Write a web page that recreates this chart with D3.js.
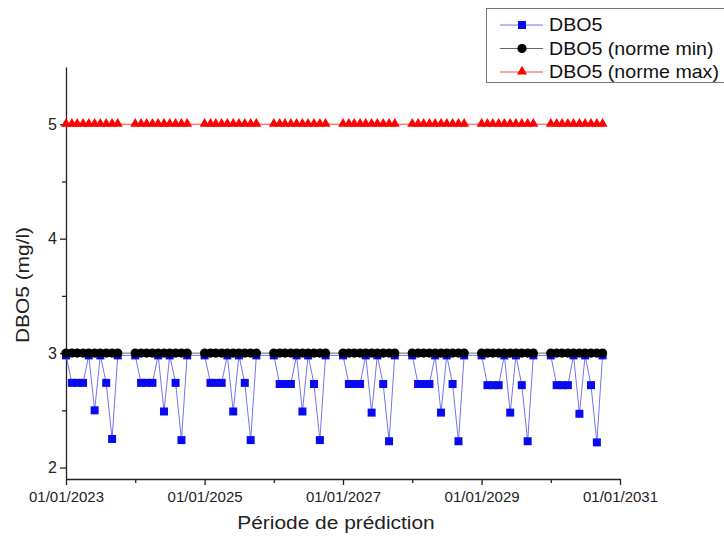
<!DOCTYPE html>
<html>
<head>
<meta charset="utf-8">
<script src="https://cdnjs.cloudflare.com/ajax/libs/d3/7.8.5/d3.min.js"></script>
<style>
  body { margin: 0; background: #fff; }
  text { font-family: "Liberation Sans", Arial, sans-serif; }
</style>
</head>
<body>
<script>
// data: one point per month, Jan to Oct of each year
var years = [2023, 2024, 2025, 2026, 2027, 2028, 2029, 2030];
var months = [0, 1, 2, 3, 4, 5, 6, 7, 8, 9];

var dbo5 = [
  [2.98, 2.74, 2.74, 2.74, 2.98, 2.50, 2.98, 2.74, 2.25, 2.98],
  [2.98, 2.74, 2.74, 2.74, 2.98, 2.49, 2.98, 2.74, 2.24, 2.98],
  [2.98, 2.74, 2.74, 2.74, 2.98, 2.49, 2.98, 2.74, 2.24, 2.98],
  [2.98, 2.73, 2.73, 2.73, 2.98, 2.49, 2.98, 2.73, 2.24, 2.98],
  [2.98, 2.73, 2.73, 2.73, 2.98, 2.48, 2.98, 2.73, 2.23, 2.98],
  [2.98, 2.73, 2.73, 2.73, 2.98, 2.48, 2.98, 2.73, 2.23, 2.98],
  [2.98, 2.72, 2.72, 2.72, 2.98, 2.48, 2.98, 2.72, 2.23, 2.98],
  [2.98, 2.72, 2.72, 2.72, 2.98, 2.47, 2.98, 2.72, 2.22, 2.98]
];
var normeMin = 3;
var normeMax = 5;

var yMajor = [2, 3, 4, 5];
var yMinor = [2.5, 3.5, 4.5];
var xMajorYears = [2023, 2025, 2027, 2029, 2031];
var xMinorYears = [2024, 2026, 2028, 2030];
var legendLabels = ["DBO5", "DBO5 (norme min)", "DBO5 (norme max)"];

var svg = d3.select("body").append("svg").attr("width", 724).attr("height", 543);

var x = d3.scaleTime()
    .domain([new Date(2023, 0, 1), new Date(2031, 0, 1)])
    .range([66, 620]);

var y = d3.scaleLinear()
    .domain([1.9, 5.5])
    .range([479, 67]);

// flatten into point lists
var blue = [], black = [], red = [];
years.forEach(function(yr, i) {
  months.forEach(function(m, j) {
    var d = new Date(yr, m, 1);
    blue.push({date: d, value: dbo5[i][j]});
    black.push({date: d, value: normeMin});
    red.push({date: d, value: normeMax});
  });
});

var line = d3.line()
    .x(function(d) { return x(d.date); })
    .y(function(d) { return y(d.value); });

// axes
var xAxis = svg.append("g")
    .attr("transform", "translate(0,479)")
    .call(d3.axisBottom(x)
      .tickValues(xMajorYears.map(function(v) { return new Date(v, 0, 1); }))
      .tickFormat(d3.timeFormat("%d/%m/%Y"))
      .tickSize(6).tickSizeOuter(0));
xAxis.select(".domain").attr("stroke", "#222").attr("stroke-width", 1.3);
xAxis.selectAll(".tick line").attr("stroke", "#222").attr("stroke-width", 1.3);
xAxis.selectAll(".tick text").attr("font-size", 15).attr("fill", "#222").attr("dy", "0.9em");

svg.append("g")
    .attr("transform", "translate(0,479)")
    .call(d3.axisBottom(x)
      .tickValues(xMinorYears.map(function(v) { return new Date(v, 0, 1); }))
      .tickFormat("")
      .tickSize(4).tickSizeOuter(0))
  .call(function(g) { g.select(".domain").remove(); })
  .selectAll(".tick line").attr("stroke", "#222").attr("stroke-width", 1.3);

var yAxis = svg.append("g")
    .attr("transform", "translate(66,0)")
    .call(d3.axisLeft(y)
      .tickValues(yMajor)
      .tickFormat(d3.format("d"))
      .tickSize(6).tickSizeOuter(0));
yAxis.select(".domain").attr("stroke", "#222").attr("stroke-width", 1.3);
yAxis.selectAll(".tick line").attr("stroke", "#222").attr("stroke-width", 1.3);
yAxis.selectAll(".tick text").attr("font-size", 16).attr("fill", "#222").attr("x", -9);

svg.append("g")
    .attr("transform", "translate(66,0)")
    .call(d3.axisLeft(y).tickValues(yMinor).tickFormat("").tickSize(4).tickSizeOuter(0))
  .call(function(g) { g.select(".domain").remove(); })
  .selectAll(".tick line").attr("stroke", "#222").attr("stroke-width", 1.3);

// axis titles (the original text is a bit wide, hence the x stretch)
svg.append("text")
    .attr("transform", "translate(336,529) scale(1.1,1)")
    .attr("text-anchor", "middle")
    .attr("font-size", 19)
    .attr("fill", "#222")
    .text("Période de prédiction");

svg.append("text")
    .attr("transform", "translate(29,285) rotate(-90) scale(1.1,1)")
    .attr("text-anchor", "middle")
    .attr("font-size", 19)
    .attr("fill", "#222")
    .text("DBO5 (mg/l)");

// series: blue first, black circles on top, then red
svg.append("path").datum(blue)
    .attr("fill", "none").attr("stroke", "#7474f0").attr("stroke-width", 1)
    .attr("d", line);
svg.append("g").selectAll("rect")
    .data(blue)
    .enter().append("rect")
      .attr("x", function(d) { return x(d.date) - 4; })
      .attr("y", function(d) { return y(d.value) - 4; })
      .attr("width", 8)
      .attr("height", 8)
      .attr("fill", "#0a0af0");

svg.append("path").datum(black)
    .attr("fill", "none").attr("stroke", "#666").attr("stroke-width", 1)
    .attr("d", line);
svg.append("g").selectAll("circle")
    .data(black)
    .enter().append("circle")
      .attr("cx", function(d) { return x(d.date); })
      .attr("cy", function(d) { return y(d.value); })
      .attr("r", 4.6)
      .attr("fill", "#000");

svg.append("path").datum(red)
    .attr("fill", "none").attr("stroke", "#f44").attr("stroke-width", 1)
    .attr("d", line);
var tri = d3.symbol().type(d3.symbolTriangle).size(44);
svg.append("g").selectAll("path")
    .data(red)
    .enter().append("path")
      .attr("transform", function(d) { return "translate(" + x(d.date) + "," + (y(d.value) - 0.5) + ")"; })
      .attr("d", tri)
      .attr("fill", "#f00");

// legend
var legend = svg.append("g");
legend.append("rect")
    .attr("x", 486.5).attr("y", 8.5)
    .attr("width", 245).attr("height", 74)
    .attr("fill", "#fff").attr("stroke", "#777");

var item = legend.selectAll("g.item")
    .data(legendLabels)
    .enter().append("g")
      .attr("class", "item")
      .attr("transform", function(d, i) { return "translate(0," + (25 + i * 23.5) + ")"; });

item.append("line")
    .attr("x1", 500).attr("x2", 543)
    .attr("stroke", function(d, i) { return ["#7474f0", "#666", "#f44"][i]; });

item.each(function(d, i) {
  var g = d3.select(this);
  if (i == 0) g.append("rect").attr("x", 518).attr("y", -4).attr("width", 8).attr("height", 8).attr("fill", "#0a0af0");
  if (i == 1) g.append("circle").attr("cx", 522).attr("r", 4.6).attr("fill", "#000");
  if (i == 2) g.append("path").attr("transform", "translate(522,-0.5)").attr("d", tri).attr("fill", "#f00");
});

item.append("text")
    .attr("transform", "translate(549,0) scale(1.09,1)")
    .attr("dy", "0.36em")
    .attr("font-size", 18)
    .attr("fill", "#111")
    .text(function(d) { return d; });
</script>
</body>
</html>
